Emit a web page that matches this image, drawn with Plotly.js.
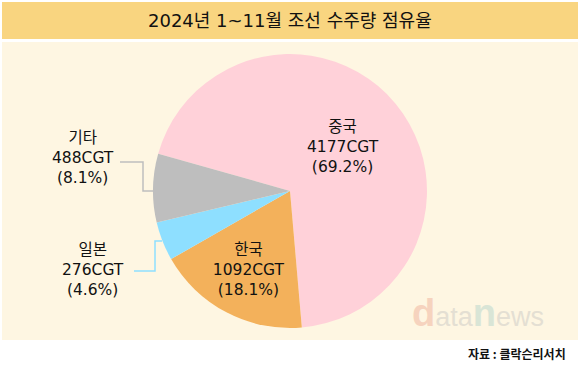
<!DOCTYPE html>
<html><head><meta charset="utf-8">
<script src="https://cdn.plot.ly/plotly-3.0.1.min.js"></script>
<style>html,body{margin:0;padding:0;background:#fff}#chart{width:580px;height:368px}</style>
</head><body><div id="chart"></div>
<script>
const countries = ['중국', '한국', '일본', '기타'];
const volumesCGT = [4177, 1092, 276, 488];
const sliceColors = ['#FFD1D9', '#F3B15B', '#8EDFFF', '#BEBEBE'];
const titleText = '2024년 1~11월 조선 수주량 점유율';
const sourceText = '자료 : 클락슨리서치';

const total = volumesCGT.reduce((a, b) => a + b, 0);
const pct = volumesCGT.map(v => (v / total * 100).toFixed(1) + '%');
const FAM = 'DejaVu Sans, Noto Sans CJK KR, sans-serif';
const labelFont = {family: FAM, size: 15.5, color: '#111'};

const trace = {
  type: 'pie',
  labels: countries,
  values: volumesCGT,
  sort: false,
  direction: 'clockwise',
  rotation: -74.2,
  marker: {colors: sliceColors, line: {width: 0}},
  textposition: ['inside', 'inside', 'none', 'none'],
  insidetextorientation: 'horizontal',
  texttemplate: '%{label}<br>%{value}CGT<br>(%{percent:.1%})',
  textfont: labelFont,
  hoverinfo: 'none',
  showlegend: false,
  domain: {x: [0.2638, 0.7362], y: [0.1087, 0.8533]}
};

const outside = [
  {i: 3, x: 83, y: 158, line: 'M120,162 L143,162 L143,191 L154,191', color: '#BEBEBE'},
  {i: 2, x: 93, y: 270, line: 'M134,271 L155,271 L155,241 L162,241', color: '#8EDFFF'}
];

const W = 580, H = 368;
const px = x => x / W, py = y => 1 - y / H;

const shapes = [
  {type: 'rect', xref: 'paper', yref: 'paper', x0: px(2), x1: px(578), y0: py(2), y1: py(39), fillcolor: '#F9D580', line: {width: 0}, layer: 'below'},
  {type: 'rect', xref: 'paper', yref: 'paper', x0: px(2), x1: px(578), y0: py(42), y1: py(340), fillcolor: '#FEF6E2', line: {width: 0}, layer: 'below'}
];
const annotations = [
  {text: titleText, xref: 'paper', yref: 'paper', x: 0.5, y: py(20), xanchor: 'center', yanchor: 'middle', showarrow: false, font: {family: FAM, size: 18, color: '#111'}},
  {text: '<b>' + sourceText + '</b>', xref: 'paper', yref: 'paper', x: px(568), y: py(353), xanchor: 'right', yanchor: 'middle', showarrow: false, font: {family: 'Noto Sans CJK KR, sans-serif', size: 12, color: '#111'}},
  {text: '<b><span style="color:#F6D3BE;font-size:38px">d</span></b><span style="color:#E4DFD3">ata</span><b><span style="color:#D9E5D6;font-size:38px">n</span></b><span style="color:#E4DFD3">ews</span>',
   xref: 'paper', yref: 'paper', x: px(478), y: py(313), xanchor: 'center', yanchor: 'middle', showarrow: false, font: {family: 'Liberation Sans, Arial, sans-serif', size: 27}}
];
outside.forEach(o => {
  annotations.push({text: countries[o.i] + '<br>' + volumesCGT[o.i] + 'CGT<br>(' + pct[o.i] + ')', xref: 'paper', yref: 'paper', x: px(o.x), y: py(o.y), xanchor: 'center', yanchor: 'middle', showarrow: false, align: 'center', font: labelFont});
  shapes.push({type: 'path', xref: 'paper', yref: 'paper', path: o.line.replace(/(\d+),(\d+)/g, (m, a, b) => px(+a) + ',' + py(+b)), line: {color: o.color, width: 1.5}});
});

Plotly.newPlot('chart', [trace], {
  width: W, height: H,
  margin: {l: 0, r: 0, t: 0, b: 0},
  paper_bgcolor: '#ffffff',
  shapes: shapes,
  annotations: annotations
}, {displayModeBar: false, staticPlot: true});
</script></body></html>
